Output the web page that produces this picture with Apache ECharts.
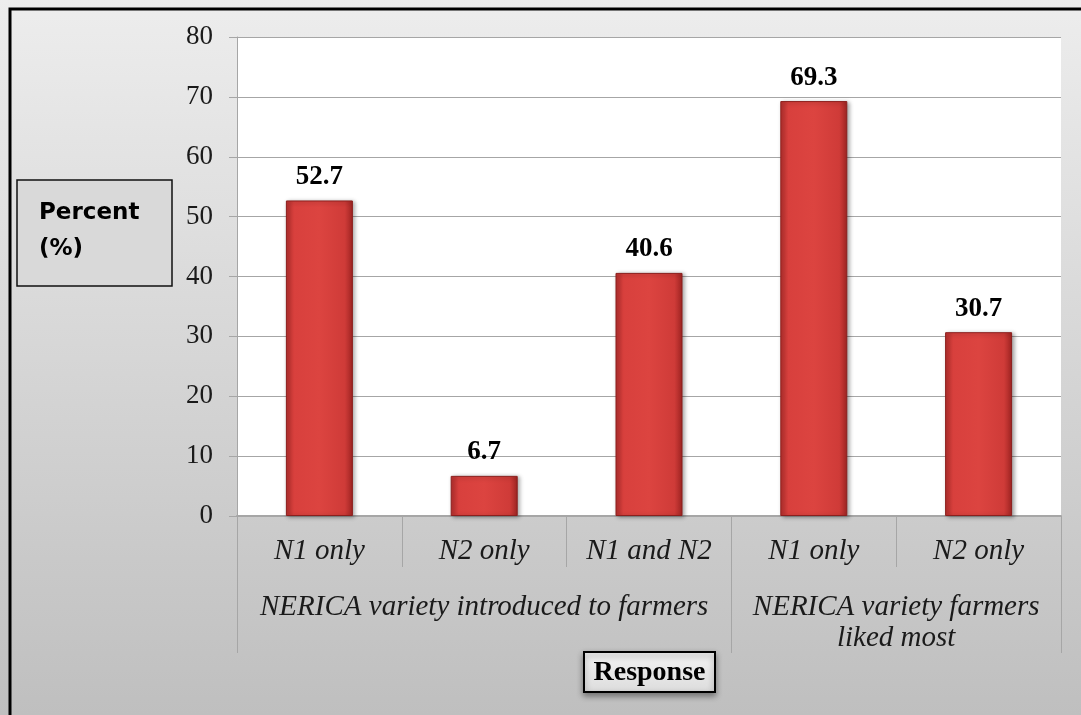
<!DOCTYPE html>
<html>
<head>
<meta charset="utf-8">
<script src="https://cdn.jsdelivr.net/npm/echarts@6/dist/echarts.min.js"></script>
<style>
html,body{margin:0;padding:0;background:#fff;}
#c{width:1081px;height:715px;}
</style>
</head>
<body>
<div id="c"></div>
<script>
var categories = ['N1 only', 'N2 only', 'N1 and N2', 'N1 only', 'N2 only'];
var values = [52.7, 6.7, 40.6, 69.3, 30.7];
var groupLabels = ['NERICA variety introduced to farmers', 'NERICA variety farmers\nliked most'];
var groupCenters = [1.5, 4];
var groupBounds = [0, 3, 5];
var yTicks = [0, 10, 20, 30, 40, 50, 60, 70, 80];
var yTitle = 'Percent\n(%)';
var xTitle = 'Response';

var chart = echarts.init(document.getElementById('c'), null, {renderer: 'canvas'});
var serif = '"Liberation Serif", "Times New Roman", serif';

var groupLabelMap = {};
groupCenters.forEach(function (c, i) { groupLabelMap[c] = groupLabels[i]; });

var option = {
  animation: false,
  backgroundColor: {
    type: 'linear', x: 0, y: 0, x2: 0, y2: 1,
    colorStops: [{offset: 0, color: '#ededed'}, {offset: 1, color: '#bfbfbf'}]
  },
  grid: {left: 237, top: 37, right: 20, bottom: 199, backgroundColor: '#ffffff', show: true, borderWidth: 0},
  xAxis: [
    {
      type: 'category',
      data: categories,
      position: 'bottom',
      axisLine: {show: true, lineStyle: {color: '#a6a6a6', width: 2}},
      axisTick: {show: true, length: 51, lineStyle: {color: '#a6a6a6', width: 1}},
      axisLabel: {
        margin: 21,
        fontFamily: serif, fontStyle: 'italic', fontSize: 29, color: '#1a1a1a'
      },
      splitLine: {show: false}
    },
    {
      type: 'value',
      min: 0, max: 5,
      position: 'bottom',
      axisLine: {show: false},
      axisTick: {show: true, inside: false, length: 137, customValues: groupBounds, lineStyle: {color: '#a6a6a6', width: 1}},
      axisLabel: {
        show: true,
        customValues: groupCenters,
        margin: 76,
        formatter: function (v) { return groupLabelMap[v] || ''; },
        fontFamily: serif, fontStyle: 'italic', fontSize: 29, lineHeight: 31, color: '#1a1a1a',
        align: 'center'
      },
      splitLine: {show: false}
    }
  ],
  yAxis: {
    type: 'value',
    min: 0, max: 80, interval: 10,
    axisLine: {show: true, lineStyle: {color: '#a6a6a6', width: 1}},
    axisTick: {show: true, length: 8, lineStyle: {color: '#a6a6a6'}},
    axisLabel: {
      margin: 24,
      fontFamily: serif, fontSize: 27, color: '#1a1a1a',
      formatter: function (v) { return yTicks.indexOf(v) >= 0 ? String(v) : ''; }
    },
    splitLine: {show: true, lineStyle: {color: '#a6a6a6', width: 1}}
  },
  series: [{
    type: 'bar',
    xAxisIndex: 0,
    data: values,
    barWidth: 67,
    itemStyle: {
      color: {
        type: 'linear', x: 0, y: 0, x2: 1, y2: 0,
        colorStops: [
          {offset: 0, color: '#b52f2d'},
          {offset: 0.12, color: '#d8403d'},
          {offset: 0.5, color: '#dc4440'},
          {offset: 0.88, color: '#cf3b38'},
          {offset: 1, color: '#9e2422'}
        ]
      },
      borderColor: '#8c1f1d',
      borderWidth: 1,
      shadowColor: 'rgba(0,0,0,0.35)',
      shadowBlur: 4,
      shadowOffsetX: 2,
      shadowOffsetY: 1
    },
    label: {
      show: true,
      position: 'top',
      distance: 10,
      fontFamily: serif, fontWeight: 'bold', fontSize: 27, color: '#000',
      formatter: function (p) { return p.value.toFixed(1); }
    }
  }],
  graphic: [
    {
      type: 'rect', z: 100,
      shape: {x: 10, y: 9, width: 1200, height: 800},
      style: {fill: 'none', stroke: '#000', lineWidth: 3}
    },
    {
      type: 'rect', z: 100,
      shape: {x: 17, y: 180, width: 155, height: 106},
      style: {fill: '#d9d9d9', stroke: '#111', lineWidth: 1.5}
    },
    {
      type: 'text', z: 101,
      left: 39, top: 195,
      style: {
        text: yTitle,
        font: 'bold 23px "DejaVu Sans", "Liberation Sans", Arial, sans-serif',
        fill: '#000',
        lineHeight: 36
      }
    },
    {
      type: 'rect', z: 100,
      shape: {x: 584, y: 652, width: 131, height: 40},
      style: {
        fill: {
          type: 'linear', x: 0, y: 0, x2: 0, y2: 1,
          colorStops: [{offset: 0, color: '#f4f4f4'}, {offset: 1, color: '#dcdcdc'}]
        },
        stroke: '#000', lineWidth: 2,
        shadowColor: 'rgba(0,0,0,0.4)', shadowBlur: 6, shadowOffsetY: 3
      }
    },
    {
      type: 'text', z: 101,
      x: 649.5, y: 673,
      style: {
        text: xTitle,
        font: 'bold 28px "Liberation Serif", "Times New Roman", serif',
        fill: '#000',
        textAlign: 'center',
        textVerticalAlign: 'middle'
      }
    }
  ]
};
chart.setOption(option);
</script>
</body>
</html>
